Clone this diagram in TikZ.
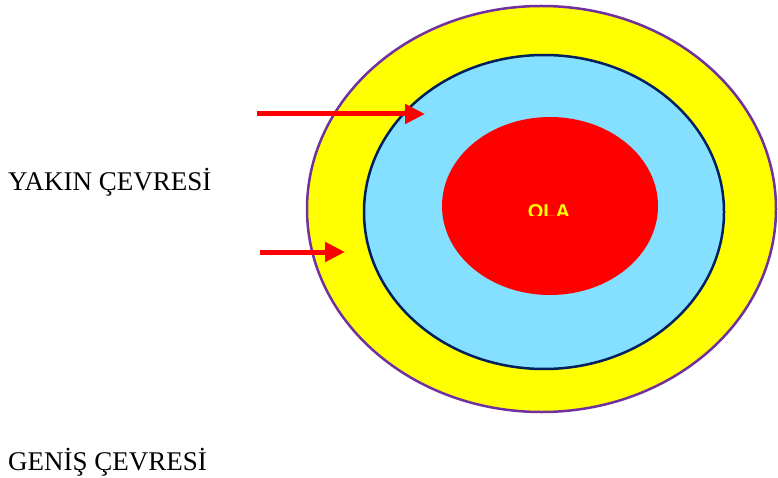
\documentclass[tikz,border=0pt]{standalone}
\usepackage{fontspec}
\setmainfont{Liberation Serif}
\newfontfamily\olafont{Liberation Sans}
\usetikzlibrary{arrows.meta,shapes.geometric}
\definecolor{ringpurple}{HTML}{7030A0}
\definecolor{ringnavy}{HTML}{002060}
\definecolor{ringblue}{HTML}{85DFFE}
\definecolor{ringyellow}{HTML}{FFFF00}
\definecolor{ringred}{HTML}{FF0000}
\tikzset{
  ring/.style={ellipse, inner sep=0pt},
  redarrow/.style={draw=ringred, line width=5pt, -{Triangle[length=20pt,width=19pt]}},
  lbl/.style={anchor=base west, inner sep=0pt, font=\fontsize{27}{30}\selectfont}
}
\begin{document}
\begin{tikzpicture}[x=1pt,y=-1pt]
\useasboundingbox (0,0) rectangle (778,478);
\node[ring, draw=ringpurple, line width=2.5pt, fill=ringyellow, minimum width=469pt, minimum height=406pt] (outer) at (541.5,209) {};
\node[ring, draw=ringnavy, line width=2.5pt, fill=ringblue, minimum width=360pt, minimum height=314pt] (middle) at (544,212) {};
\node[ring, fill=ringred, minimum width=216pt, minimum height=178pt] (inner) at (550,206) {};
\begin{scope}
\clip (500,190) rectangle (600,215.5);
\node[inner sep=0pt, anchor=base, text=ringyellow, font=\olafont\bfseries\fontsize{20}{24}\selectfont] (ola) at (549,218.5) {OLA};
\end{scope}
\coordinate (a1s) at (257,114);
\coordinate (a1e) at (425,114);
\coordinate (a2s) at (260,252);
\coordinate (a2e) at (345,252);
\draw[redarrow] (a1s) -- (a1e);
\draw[redarrow] (a2s) -- (a2e);
\node[lbl] (yakin) at (8,191) {YAKIN ÇEVRESİ};
\node[lbl] (genis) at (8,470) {GENİŞ ÇEVRESİ};
\end{tikzpicture}
\end{document}
